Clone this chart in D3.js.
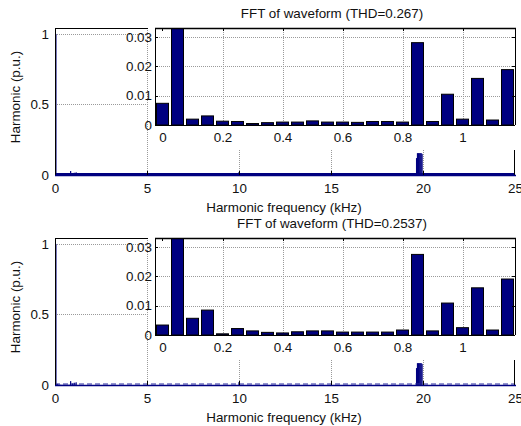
<!DOCTYPE html>
<html>
<head>
<meta charset="utf-8">
<script src="https://cdn.jsdelivr.net/npm/d3@7/dist/d3.min.js"></script>
<style>
html,body{margin:0;padding:0;background:#fff;overflow:hidden;}
svg{display:block;}
text{font-family:"Liberation Sans",Arial,Helvetica,sans-serif;fill:#111;}
</style>
</head>
<body>
<svg id="chart" width="521" height="426"></svg>
<script>
// ---------- data ----------
const titles = ["FFT of waveform (THD=0.267)", "FFT of waveform (THD=0.2537)"];
const insetFreq = [0,0.05,0.1,0.15,0.2,0.25,0.3,0.35,0.4,0.45,0.5,0.55,0.6,0.65,0.7,0.75,0.8,0.85,0.9,0.95,1.0,1.05,1.1,1.15];
const harmonicsTop = [0.0074,1.0,0.002,0.0031,0.0013,0.0012,0.0005,0.0008,0.001,0.001,0.0014,0.001,0.001,0.0009,0.0012,0.0012,0.001,0.0281,0.0012,0.0105,0.002,0.0159,0.0017,0.0189];
const harmonicsBottom = [0.0034,1.0,0.0057,0.0085,0.0004,0.0022,0.0014,0.0009,0.0007,0.0011,0.0014,0.0014,0.001,0.001,0.001,0.001,0.0017,0.0275,0.0014,0.0109,0.0025,0.0161,0.0017,0.0191];
const highFreq = [10.0,19.65,19.7,19.75,19.8,19.85,19.9,19.95];
const highTop = [0.02,0.12,0.155,0.155,0.155,0.155,0.155,0.15];
const highBottom = [0.02,0.12,0.155,0.155,0.155,0.155,0.155,0.15];
const mainXTicks = [0,5,10,15,20,25];
const mainYTicks = [0,0.5,1];
const insetXTicks = [0,0.2,0.4,0.6,0.8,1];
const insetYTicks = [0,0.01,0.02,0.03];
const xLabel = "Harmonic frequency (kHz)";
const yLabel = "Harmonic (p.u.)";

const panels = [
  {dy:0, title:titles[0], inset:harmonicsTop, high:highTop, dashedBase:false},
  {dy:210, title:titles[1], inset:harmonicsBottom, high:highBottom, dashedBase:true}
];

const svg = d3.select("#chart");
const NAVY = "#000080";
const GRID = "#9a9a9a";
const FS = 13.4;
const FF = "Liberation Sans, Arial, sans-serif";

panels.forEach((p, pi) => {
  const g = svg.append("g").attr("transform", `translate(0,${p.dy})`);
  const L = 55, R = 515, T = 28, B = 175;
  const x = d3.scaleLinear().domain([0, 25]).range([L, R]);
  const y = d3.scaleLinear().domain([0, 1.042]).range([B, T]);

  const clipId = "clipMain" + pi;
  g.append("clipPath").attr("id", clipId).append("rect")
    .attr("x", L).attr("y", T).attr("width", R - L).attr("height", B - T);

  // main grid
  const grid = g.append("g");
  grid.selectAll("line.vx").data(mainXTicks.slice(1, -1)).join("line")
    .attr("x1", d => x(d) + 0.5).attr("x2", d => x(d) + 0.5)
    .attr("y1", T).attr("y2", B)
    .attr("stroke", GRID).attr("stroke-dasharray", "1,1");
  grid.selectAll("line.hy").data(mainYTicks.slice(1)).join("line")
    .attr("y1", d => Math.round(y(d)) + 0.5).attr("y2", d => Math.round(y(d)) + 0.5)
    .attr("x1", L).attr("x2", R)
    .attr("stroke", GRID).attr("stroke-dasharray", "1,1");

  // main bars (full spectrum: low harmonics + high-frequency content)
  const mainData = insetFreq.map((f, i) => ({f, v:p.inset[i]}))
    .concat(highFreq.map((f, i) => ({f, v:p.high[i]})));
  const bw = Math.max(x(0.04) - x(0), 1.2);
  g.append("g").attr("clip-path", `url(#${clipId})`)
    .selectAll("rect").data(mainData).join("rect")
    .attr("x", d => x(d.f) - bw / 2)
    .attr("width", bw)
    .attr("y", d => y(d.v))
    .attr("height", d => B - y(d.v))
    .attr("fill", NAVY);

  // baseline of the bar series
  g.append("line").attr("x1", L).attr("x2", R)
    .attr("y1", B - 1).attr("y2", B - 1)
    .attr("stroke", p.dashedBase ? "#2a2aa0" : NAVY)
    .attr("stroke-width", p.dashedBase ? 1.2 : 2)
    .attr("stroke-dasharray", p.dashedBase ? "5,3" : null);

  // main frame
  g.append("rect").attr("x", L + 0.5).attr("y", T + 0.5)
    .attr("width", R - L - 1).attr("height", B - T)
    .attr("fill", "none").attr("stroke", "#000").attr("stroke-width", 1);
  g.append("line").attr("x1", L).attr("x2", R + 1).attr("y1", B + 0.5).attr("y2", B + 0.5)
    .attr("stroke", NAVY).attr("stroke-width", 1.5);

  // main axes ticks + labels
  const xAxis = d3.axisBottom(x).tickValues(mainXTicks).tickSize(0).tickPadding(8).tickFormat(d3.format("d"));
  const xa = g.append("g").attr("transform", `translate(0,${B})`).call(xAxis);
  xa.select(".domain").remove();
  xa.selectAll("text").attr("font-size", FS).attr("font-family", FF).attr("fill", "#111");
  const yAxis = d3.axisLeft(y).tickValues(mainYTicks).tickSize(0).tickPadding(6).tickFormat(d => d === 0.5 ? "0.5" : d3.format("d")(d));
  const ya = g.append("g").attr("transform", `translate(${L},0)`).call(yAxis);
  ya.select(".domain").remove();
  ya.selectAll("text").attr("font-size", FS).attr("font-family", FF).attr("fill", "#111");
  // small inside ticks on main axes
  g.selectAll("line.mt").data(mainXTicks.slice(1, -1)).join("line")
    .attr("x1", d => x(d) + 0.5).attr("x2", d => x(d) + 0.5)
    .attr("y1", B).attr("y2", B - 4).attr("stroke", "#000");

  // titles / labels
  g.append("text").attr("x", 332).attr("y", 17.5).attr("text-anchor", "middle")
    .attr("font-size", FS).text(p.title);
  g.append("text").attr("x", 284).attr("y", 212).attr("text-anchor", "middle")
    .attr("font-size", FS).text(xLabel);
  g.append("text").attr("transform", `translate(20,${97}) rotate(-90)`)
    .attr("text-anchor", "middle").attr("font-size", FS).text(yLabel);

  // ---------- inset ----------
  const iL = 155, iR = 515, iT = 28, iB = 125;
  const xi = d3.scaleLinear().domain([-0.025, 1.175]).range([iL, iR]);
  const yi = d3.scaleLinear().domain([0, 0.0331]).range([iB, iT]);
  const ig = g.append("g");
  ig.append("rect").attr("x", 148).attr("y", iT).attr("width", iR - 148).attr("height", 150 - iT)
    .attr("fill", "#fff");
  const iClip = "clipInset" + pi;
  ig.append("clipPath").attr("id", iClip).append("rect")
    .attr("x", iL).attr("y", iT).attr("width", iR - iL).attr("height", iB - iT);

  ig.selectAll("line.ivx").data(insetXTicks.slice(1)).join("line")
    .attr("x1", d => Math.round(xi(d)) + 0.5).attr("x2", d => Math.round(xi(d)) + 0.5)
    .attr("y1", iT).attr("y2", iB)
    .attr("stroke", GRID).attr("stroke-dasharray", "1,1");
  ig.selectAll("line.ihy").data(insetYTicks.slice(1)).join("line")
    .attr("y1", d => Math.round(yi(d)) + 0.5).attr("y2", d => Math.round(yi(d)) + 0.5)
    .attr("x1", iL).attr("x2", iR)
    .attr("stroke", GRID).attr("stroke-dasharray", "1,1");

  const ibw = xi(0.04) - xi(0);
  ig.append("g").attr("clip-path", `url(#${iClip})`)
    .selectAll("rect").data(insetFreq.map((f, i) => ({f, v:p.inset[i]}))).join("rect")
    .attr("x", d => xi(d.f) - ibw / 2)
    .attr("width", ibw)
    .attr("y", d => yi(Math.min(d.v, 0.05)))
    .attr("height", d => iB - yi(Math.min(d.v, 0.05)))
    .attr("fill", NAVY).attr("stroke", "#000").attr("stroke-width", 1);

  // inset frame lines
  ig.append("line").attr("x1", iL + 0.5).attr("x2", iL + 0.5).attr("y1", iT).attr("y2", iB + 1)
    .attr("stroke", "#000");
  ig.append("line").attr("x1", iL).attr("x2", iR).attr("y1", iB + 0.5).attr("y2", iB + 0.5)
    .attr("stroke", "#000");
  ig.append("line").attr("x1", iL).attr("x2", iR + 1).attr("y1", iT + 0.5).attr("y2", iT + 0.5)
    .attr("stroke", "#000").attr("stroke-width", 1.5);
  ig.append("line").attr("x1", iR + 0.5).attr("x2", iR + 0.5).attr("y1", iT).attr("y2", iB)
    .attr("stroke", "#000");
  // inset inside ticks
  ig.selectAll("line.itx").data(insetXTicks).join("line")
    .attr("x1", d => Math.round(xi(d)) + 0.5).attr("x2", d => Math.round(xi(d)) + 0.5)
    .attr("y1", iT).attr("y2", iT + 3).attr("stroke", "#000");
  ig.selectAll("line.ity").data(insetYTicks).join("line")
    .attr("y1", d => Math.round(yi(d)) + 0.5).attr("y2", d => Math.round(yi(d)) + 0.5)
    .attr("x1", iL).attr("x2", iL + 3).attr("stroke", "#000");
  ig.selectAll("line.ityr").data(insetYTicks).join("line")
    .attr("y1", d => Math.round(yi(d)) + 0.5).attr("y2", d => Math.round(yi(d)) + 0.5)
    .attr("x1", iR - 3).attr("x2", iR).attr("stroke", "#000");

  const ixa = ig.append("g").attr("transform", `translate(0,${iB})`)
    .call(d3.axisBottom(xi).tickValues(insetXTicks).tickSize(0).tickPadding(7).tickFormat(d => d3.format("")(d)));
  ixa.select(".domain").remove();
  ixa.selectAll("text").attr("font-size", FS).attr("font-family", FF).attr("fill", "#111");
  const iya = ig.append("g").attr("transform", `translate(${iL},0)`)
    .call(d3.axisLeft(yi).tickValues(insetYTicks).tickSize(0).tickPadding(3).tickFormat(d => d === 0 ? "0" : d3.format(".2f")(d)));
  iya.select(".domain").remove();
  iya.selectAll("text").attr("font-size", FS).attr("font-family", FF).attr("fill", "#111");
});
</script>
</body>
</html>
